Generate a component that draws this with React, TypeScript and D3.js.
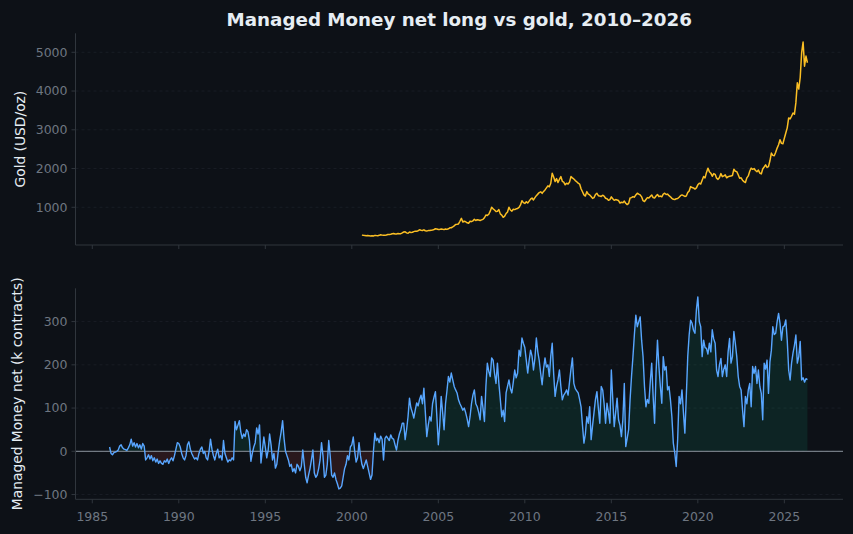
import React from "react";
import * as d3 from "d3";

const W = 853;
const H = 534;

// Managed Money net position, thousand contracts, monthly from Jan 1986
const NET_START = 1986;
const netLong = [
  10, -5, -8, -3, -2, 0, 3, 12, 15, 8, 5, 4,
  2, 8, 15, 28, 12, 20, 10, 18, 8, 15, 5, 18,
  12, -20, -15, -8, -18, -10, -22, -15, -25, -18, -28, -22,
  -28, -30, -22, -25, -18, -28, -20, -15, -22, -10, 5, 20,
  18, 10, -5, -15, -20, -10, 15, 22, 5, -5, -12, -18,
  -15, -20, -5, 5, 10, -5, 0, -15, -20, 0, 28, 5,
  -10, -20, -5, 5, -15, -10, -20, 25, -5, -15, -25, -20,
  -22, -15, -20, 69, 50, 60, 71, 45, 30, 40, 34, 50,
  45, 25, -23, -5, 10, 20, 54, 40, 61, -27, 3, 33,
  10, -15, 3, 40, 15, -20, -5, -39, -30, 0, 25, 45,
  71, 30, 0, -10, -20, -35, -30, -47, -40, -50, -30, -35,
  -45, -35, 3, -30, -60, -73, -55, -40, -20, 3, -50, -60,
  -55, -40, -20, 20, -10, -60, -55, -30, 25, -10, -55, -60,
  -50, -65, -75, -87, -85, -80, -60, -40, -30, -10, -20, 10,
  15, 33, 0, -25, -15, 20, -10, -30, -40, -30, -20, -35,
  -50, -65, -55, 0, 42, 25, 30, 20, 35, 28, -20, 30,
  35, 30, 25, 38, 30, 28, 15, 3, 25, 40, 50, 65,
  65, 27, 50, 80, 123, 100, 90, 77, 95, 112, 105, 120,
  130, 110, 146, 90, 34, 60, 80, 70, 110, 125, 138, 80,
  15, 60, 127, 90, 50, 110, 140, 173, 160, 181, 165, 150,
  142, 135, 119, 110, 103, 95, 100, 89, 75, 57, 80, 110,
  130, 142, 110, 103, 90, 73, 127, 100, 69, 150, 204, 185,
  173, 216, 211, 180, 157, 204, 157, 120, 80, 95, 69, 135,
  150, 165, 145, 135, 160, 188, 170, 181, 234, 220, 262, 250,
  240, 211, 181, 210, 234, 220, 188, 215, 262, 230, 210, 180,
  154, 190, 216, 195, 200, 173, 220, 250, 180, 127, 150, 165,
  188, 150, 119, 130, 135, 142, 130, 160, 190, 216, 157, 145,
  140, 135, 120, 103, 60, 19, 40, 80, 65, 103, 27, 60,
  90, 120, 138, 100, 65, 150, 142, 110, 65, 111, 90, 65,
  188, 120, 57, 90, 123, 73, 60, 34, 73, 157, 11, 30,
  50, 120, 173, 219, 270, 315, 288, 300, 311, 257, 219, 150,
  103, 120, 111, 160, 204, 127, 65, 180, 257, 196, 150, 111,
  219, 188, 196, 142, 150, 119, 80, 19, -4, -35, 27, 127,
  110, 142, 90, 42, 127, 219, 270, 303, 296, 280, 273, 327,
  357, 300, 288, 219, 257, 240, 238, 225, 250, 230, 281, 260,
  250, 188, 173, 200, 215, 173, 190, 200, 173, 230, 261, 204,
  219, 277, 250, 219, 173, 150, 142, 96, 57, 127, 110, 142,
  157, 103, 196, 180, 196, 157, 188, 150, 134, 73, 204, 190,
  211, 134, 207, 234, 288, 270, 273, 300, 319, 296, 257, 288,
  290, 304, 257, 188, 165, 204, 227, 245, 269, 204, 219, 254,
  165, 170, 160, 168, 166,
];

// Gold price, USD/oz, monthly from Aug 2000
const GOLD_START = 2000 + 7 / 12;
const goldPrice = [
  282, 276, 272, 266, 272,
  268, 262, 264, 260, 275, 271, 268, 276, 290, 282, 276, 278,
  285, 298, 296, 305, 318, 324, 312, 312, 322, 318, 320, 340,
  362, 368, 340, 330, 360, 350, 355, 372, 385, 380, 395, 420,
  410, 402, 418, 395, 390, 398, 400, 410, 415, 428, 445, 440,
  428, 430, 440, 432, 425, 440, 430, 445, 470, 472, 495, 520,
  555, 560, 570, 640, 714, 620, 640, 627, 600, 590, 640, 630,
  650, 689, 660, 680, 670, 660, 675, 689, 730, 800, 790, 820,
  900, 1000, 960, 930, 890, 900, 940, 830, 800, 741, 770, 840,
  880, 1000, 930, 900, 950, 940, 960, 970, 1000, 1060, 1171, 1120,
  1100, 1145, 1110, 1160, 1210, 1240, 1190, 1250, 1300, 1340, 1380, 1400,
  1360, 1410, 1448, 1500, 1552, 1530, 1620, 1881, 1780, 1663, 1740, 1640,
  1720, 1793, 1670, 1650, 1580, 1622, 1600, 1650, 1793, 1760, 1730, 1690,
  1660, 1622, 1600, 1480, 1400, 1319, 1290, 1404, 1340, 1320, 1280, 1230,
  1250, 1330, 1362, 1300, 1290, 1280, 1310, 1290, 1233, 1220, 1180, 1200,
  1270, 1220, 1180, 1200, 1189, 1175, 1110, 1130, 1120, 1160, 1104, 1070,
  1100, 1240, 1250, 1275, 1260, 1320, 1362, 1340, 1320, 1270, 1171, 1150,
  1200, 1250, 1240, 1280, 1319, 1250, 1240, 1290, 1330, 1275, 1290, 1270,
  1340, 1362, 1330, 1340, 1300, 1270, 1230, 1207, 1200, 1220, 1225, 1260,
  1300, 1319, 1300, 1280, 1290, 1380, 1420, 1534, 1510, 1500, 1470, 1500,
  1580, 1622, 1600, 1700, 1793, 1760, 1900, 2010, 1920, 1881, 1800, 1870,
  1850, 1751, 1720, 1770, 1870, 1790, 1810, 1837, 1760, 1790, 1800, 1810,
  1820, 1984, 1930, 1920, 1840, 1751, 1760, 1700, 1663, 1640, 1760, 1810,
  1930, 2010, 1980, 2000, 1950, 1920, 1960, 1881, 1860, 1990, 2040, 2096,
  2030, 2050, 2200, 2399, 2340, 2330, 2420, 2528, 2614, 2744, 2650, 2640,
  2780, 2917, 3050, 3306, 3280, 3350, 3435, 3400, 3700, 4212, 4050, 4350,
  4990, 5264, 4642, 4902, 4730,
];

const yearTicks = [1985, 1990, 1995, 2000, 2005, 2010, 2015, 2020, 2025];
const goldTicks = [1000, 2000, 3000, 4000, 5000];
const netTicks = [-100, 0, 100, 200, 300];

const C = {
  bg: "#0d1117",
  spine: "#30363d",
  grid: "#1c2128",
  tick: "#6e7681",
  label: "#e6edf3",
  gold: "#fbbf24",
  net: "#58a6ff",
  pos: "#10b981",
  neg: "#f85149",
  zero: "#8b949e",
};

const FONT = "'DejaVu Sans', sans-serif";

const LEFT = 75.5;
const RIGHT = 843;
const TOP1 = 33.3;
const BOT1 = 245;
const TOP2 = 288.3;
const BOT2 = 499.3;

export default function App() {
  const x = d3.scaleLinear().domain([1984.03, 2028.39]).range([LEFT, RIGHT]);
  const yG = d3.scaleLinear().domain([27, 5490]).range([BOT1, TOP1]);
  const yN = d3.scaleLinear().domain([-111, 377]).range([BOT2, TOP2]);

  const gold = goldPrice.map((v, i) => ({ t: GOLD_START + i / 12, v }));
  const net = netLong.map((v, i) => ({ t: NET_START + i / 12, v }));

  const goldLine = d3
    .line<{ t: number; v: number }>()
    .x((d) => x(d.t))
    .y((d) => yG(d.v))(gold) as string;
  const netLine = d3
    .line<{ t: number; v: number }>()
    .x((d) => x(d.t))
    .y((d) => yN(d.v))(net) as string;
  const netArea = d3
    .area<{ t: number; v: number }>()
    .x((d) => x(d.t))
    .y0(yN(0))
    .y1((d) => yN(d.v))(net) as string;

  const y0 = yN(0);

  const xAxis = (bottom: number, labels: boolean) =>
    yearTicks.map((t) => (
      <g key={t} transform={`translate(${x(t)},${bottom})`}>
        <line y2={4} stroke={C.spine} strokeWidth={1} />
        {labels && (
          <text y={22} textAnchor="middle" fill={C.tick} fontSize={12.5} fontFamily={FONT}>
            {t}
          </text>
        )}
      </g>
    ));

  const yAxis = (ticks: number[], scale: d3.ScaleLinear<number, number>, fmt: (v: number) => string) =>
    ticks.map((t) => (
      <g key={t} transform={`translate(0,${scale(t)})`}>
        <line x1={LEFT} x2={RIGHT} stroke={C.grid} strokeDasharray="3,3" strokeWidth={0.8} />
        <line x1={LEFT - 4} x2={LEFT} stroke={C.spine} strokeWidth={1} />
        <text x={LEFT - 8} dy="0.35em" textAnchor="end" fill={C.tick} fontSize={12.5} fontFamily={FONT}>
          {fmt(t)}
        </text>
      </g>
    ));

  return (
    <svg
      width={W}
      height={H}
      style={{ position: "absolute", left: 0, top: 0, display: "block" }}
    >
      <defs>
        <clipPath id="above-zero">
          <rect x={LEFT} y={TOP2} width={RIGHT - LEFT} height={y0 - TOP2} />
        </clipPath>
        <clipPath id="below-zero">
          <rect x={LEFT} y={y0} width={RIGHT - LEFT} height={BOT2 - y0} />
        </clipPath>
      </defs>
      <rect width={W} height={H} fill={C.bg} />

      <text
        x={(LEFT + RIGHT) / 2}
        y={25.5}
        textAnchor="middle"
        fill={C.label}
        fontSize={18.3}
        fontWeight="bold"
        fontFamily={FONT}
      >
        Managed Money net long vs gold, 2010–2026
      </text>

      {/* gold panel */}
      {yAxis(goldTicks, yG, (v) => String(v))}
      <path d={goldLine} fill="none" stroke={C.gold} strokeWidth={1.5} strokeLinejoin="round" />
      <line x1={LEFT} x2={LEFT} y1={TOP1} y2={BOT1} stroke={C.spine} />
      <line x1={LEFT} x2={RIGHT} y1={BOT1} y2={BOT1} stroke={C.spine} />
      {xAxis(BOT1, false)}
      <text
        transform={`translate(25,${(TOP1 + BOT1) / 2}) rotate(-90)`}
        textAnchor="middle"
        fill={C.label}
        fontSize={13.8}
        fontFamily={FONT}
      >
        Gold (USD/oz)
      </text>

      {/* positioning panel */}
      {yAxis(netTicks, yN, (v) => (v < 0 ? `\u2212${Math.abs(v)}` : String(v)))}
      <path d={netArea} fill={C.pos} fillOpacity={0.12} clipPath="url(#above-zero)" />
      <path d={netArea} fill={C.neg} fillOpacity={0.12} clipPath="url(#below-zero)" />
      <line x1={LEFT} x2={RIGHT} y1={y0} y2={y0} stroke={C.zero} strokeWidth={1} />
      <path d={netLine} fill="none" stroke={C.net} strokeWidth={1.4} strokeLinejoin="round" />
      <line x1={LEFT} x2={LEFT} y1={TOP2} y2={BOT2} stroke={C.spine} />
      <line x1={LEFT} x2={RIGHT} y1={BOT2} y2={BOT2} stroke={C.spine} />
      {xAxis(BOT2, true)}
      <text
        transform={`translate(22,${(TOP2 + BOT2) / 2}) rotate(-90)`}
        textAnchor="middle"
        fill={C.label}
        fontSize={13.8}
        fontFamily={FONT}
      >
        Managed Money net (k contracts)
      </text>
    </svg>
  );
}
